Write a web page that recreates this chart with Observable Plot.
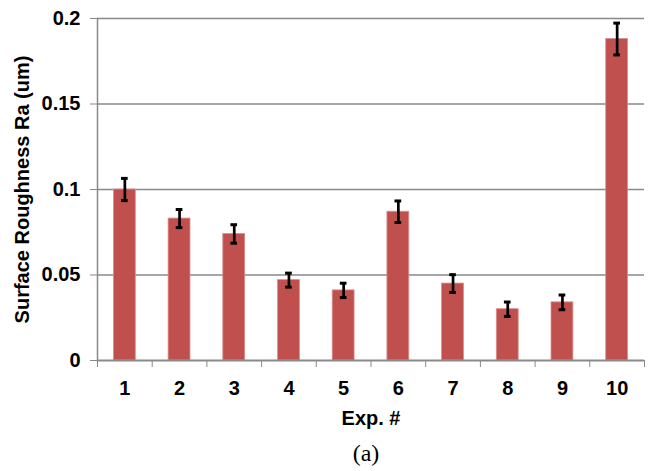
<!DOCTYPE html>
<html>
<head>
<meta charset="utf-8">
<script src="https://cdn.jsdelivr.net/npm/d3@7"></script>
<script src="https://cdn.jsdelivr.net/npm/@observablehq/plot@0.6"></script>
<style>
  body { margin: 0; background: #fff; }
  #caption { width: 648px; box-sizing: border-box; padding-left: 84px; text-align: center;
    font-family: "Liberation Serif", "DejaVu Serif", serif; font-size: 24px; line-height: 36px; height: 36px; }
</style>
</head>
<body>
<div id="chart"></div>
<div id="caption">(a)</div>
<script>
const exps = ["1", "2", "3", "4", "5", "6", "7", "8", "9", "10"];
const ra = [0.100, 0.083, 0.074, 0.047, 0.041, 0.087, 0.045, 0.030, 0.034, 0.188];
const err = [0.0065, 0.0053, 0.0054, 0.0041, 0.0042, 0.0063, 0.0052, 0.0042, 0.0043, 0.0093];
const yTicks = [0, 0.05, 0.1, 0.15, 0.2];
const yTickLabels = ["0", "0.05", "0.1", "0.15", "0.2"];

const data = exps.map((e, i) => ({exp: e, ra: ra[i], lo: ra[i] - err[i], hi: ra[i] + err[i]}));

const W = 648, H = 435, mL = 97, mR = 4, mT = 18, mB = 75;
const step = (W - mL - mR) / exps.length;
const grey = "#898989";

const chart = Plot.plot({
  width: W, height: H,
  marginLeft: mL, marginRight: mR, marginTop: mT, marginBottom: mB,
  style: {fontFamily: "'Liberation Sans', Arial, sans-serif", fontSize: "20px", fontWeight: "bold", color: "black", background: "white"},
  x: {domain: exps, paddingInner: 0.6, paddingOuter: 0.3, round: false},
  y: {domain: [0, 0.2]},
  marks: [
    Plot.ruleY(yTicks.slice(1), {stroke: grey, strokeWidth: 1.3}),
    Plot.barY(data, {x: "exp", y: "ra", fill: "#C0504D", stroke: "#D9908E", strokeWidth: 0.8}),
    Plot.ruleX(data, {x: "exp", y1: "lo", y2: "hi", stroke: "black", strokeWidth: 2.7}),
    Plot.tickY(data, {x: "exp", y: "lo", stroke: "black", strokeWidth: 3, insetLeft: 7.6, insetRight: 7.6}),
    Plot.tickY(data, {x: "exp", y: "hi", stroke: "black", strokeWidth: 3, insetLeft: 7.6, insetRight: 7.6}),
    Plot.frame({anchor: "left", stroke: grey, strokeWidth: 1.5}),
    Plot.ruleY([0], {stroke: grey, strokeWidth: 1.8}),
    Plot.axisY({ticks: yTicks, tickFormat: (d, i) => yTickLabels[i], tickSize: 7, tickPadding: 10, stroke: grey,
      label: "Surface Roughness Ra (um)", labelAnchor: "center", labelOffset: 83, labelArrow: "none"}),
    Plot.axisX({ticks: exps, tickSize: 0, tickPadding: 20, label: "Exp. #", labelAnchor: "center", labelOffset: 64, labelArrow: "none"}),
    Plot.axisX({ticks: exps, tickSize: 7, tickFormat: () => "", dx: -step / 2, stroke: grey, label: null}),
    Plot.axisX({ticks: [exps[exps.length - 1]], tickSize: 7, tickFormat: () => "", dx: step / 2, stroke: grey, label: null})
  ]
});
document.getElementById("chart").appendChild(chart);
</script>
</body>
</html>
